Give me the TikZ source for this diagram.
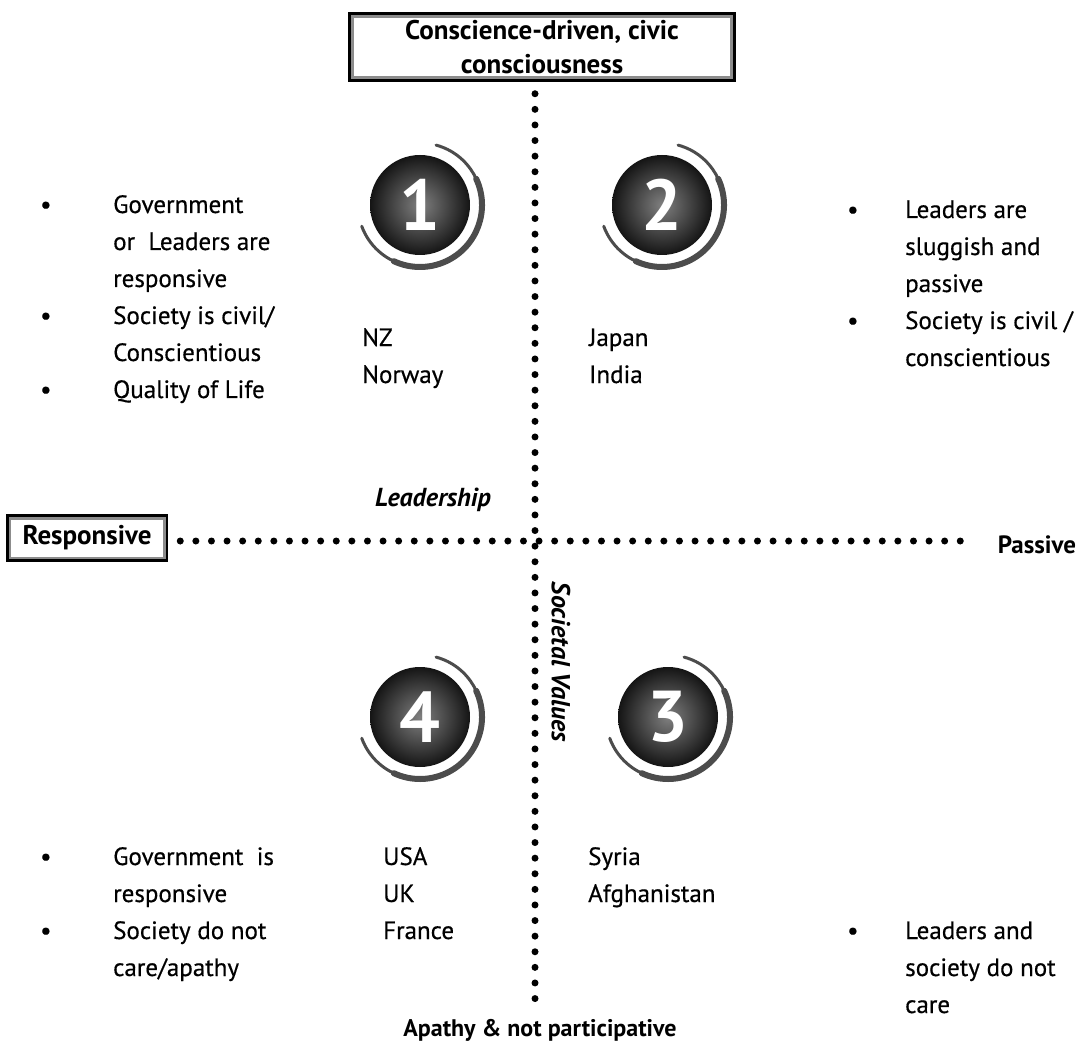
\documentclass[tikz,border=0pt]{standalone}
\usepackage{fontspec}
\setmainfont{PT Sans}[UprightFeatures={FakeBold=0.5}]
\usetikzlibrary{positioning}
\tikzset{
  dotline/.style={line width=7pt, line cap=round, dash pattern=on 0pt off 15.6pt},
  caja/.style={draw=black, line width=3.5pt, fill=white, align=center, inner xsep=10pt, inner ysep=4pt,
    font=\bfseries\fontsize{27}{34}\selectfont},
  eje/.style={inner sep=1pt, font=\bfseries\fontsize{25}{30}\selectfont},
  titulo/.style={inner sep=1pt, font=\bfseries\itshape\fontsize{26}{30}\selectfont},
  bloque/.style={inner sep=0pt, anchor=base west, font=\fontsize{25}{37}\selectfont},
  disco/.style={circle, minimum size=100pt, inner sep=0pt, shade, inner color=black!50, outer color=black!92,
    text=white, font=\bfseries\fontsize{72}{72}\selectfont},
  anillo/.style={draw=black!70, line width=3pt, line cap=round}
}
\begin{document}
\begin{tikzpicture}[x=1pt,y=1pt]
    % Marco
    \useasboundingbox (0,0) rectangle (1081,-1048);
    \coordinate (cruce) at (535,-541);
    % Titulos de los ejes
    \node[caja, minimum width=385pt, minimum height=66pt] (arriba) at (542,-47) {Conscience-driven, civic\\consciousness};
    \draw[black!45, line width=3pt] ([shift={(4.5,-4.5)}]arriba.north west) rectangle ([shift={(-4.5,4.5)}]arriba.south east);
    \node[caja, minimum width=159pt, minimum height=44pt] (resp) at (87,-538) {Responsive};
    \draw[black!45, line width=2.5pt] ([shift={(4,-4)}]resp.north west) rectangle ([shift={(-4,4)}]resp.south east);
    \node[eje] (pasivo) at (1037,-545) {Passive};
    \node[eje, font=\bfseries\fontsize{24}{28}\selectfont] (abajo) at (540,-1030) {Apathy \& not participative};
    % Lineas punteadas
    \draw[dotline, shorten <=12pt, shorten >=8pt] (arriba.south -| cruce) -- (abajo.north -| cruce);
    \draw[dotline, shorten <=12pt, shorten >=26pt] (resp.east |- cruce) -- (pasivo.west |- cruce);
    % Nombres de los ejes
    \node[titulo] (lider) at (433,-500) {Leadership};
    \node[titulo, rotate=-90] (valores) at (561,-662) {Societal Values};
    % Numeros de los cuadrantes
    \foreach \n/\x/\y in {1/420/205, 2/662/205, 4/420/717, 3/668/717} {
      \node[disco] (n\n) at (\x,-\y) {\n};
      \draw[anillo] (n\n.center) ++(75:62) arc[start angle=75, end angle=-160, radius=62];
      \draw[anillo, line width=6pt] (n\n.center) ++(25:62) arc[start angle=25, end angle=-115, radius=62];
    }
    % Cuadrante 1
    \node[bloque] (t1) at (40,-213) {\begin{tabular}[t]{@{}p{73pt}@{}l@{}}
      \textbullet & Government\\
      & or\ \ Leaders are\\
      & responsive\\
      \textbullet & Society is civil/\\
      & Conscientious\\
      \textbullet & Quality of Life
    \end{tabular}};
    \node[bloque] (p1) at (362,-346) {\begin{tabular}[t]{@{}l@{}}NZ\\Norway\end{tabular}};
    % Cuadrante 2
    \node[bloque] (p2) at (589,-346) {\begin{tabular}[t]{@{}l@{}}Japan\\India\end{tabular}};
    \node[bloque] (t2) at (847,-218) {\begin{tabular}[t]{@{}p{58pt}@{}l@{}}
      \textbullet & Leaders are\\
      & sluggish and\\
      & passive\\
      \textbullet & Society is civil /\\
      & conscientious
    \end{tabular}};
    % Cuadrante 4
    \node[bloque] (t4) at (40,-865) {\begin{tabular}[t]{@{}p{73pt}@{}l@{}}
      \textbullet & Government\ \ is\\
      & responsive\\
      \textbullet & Society do not\\
      & care/apathy
    \end{tabular}};
    \node[bloque] (p4) at (383,-865) {\begin{tabular}[t]{@{}l@{}}USA\\UK\\France\end{tabular}};
    % Cuadrante 3
    \node[bloque] (p3) at (588,-865) {\begin{tabular}[t]{@{}l@{}}Syria\\Afghanistan\end{tabular}};
    \node[bloque] (t3) at (847,-939) {\begin{tabular}[t]{@{}p{58pt}@{}l@{}}
      \textbullet & Leaders and\\
      & society do not\\
      & care
    \end{tabular}};
\end{tikzpicture}
\end{document}
